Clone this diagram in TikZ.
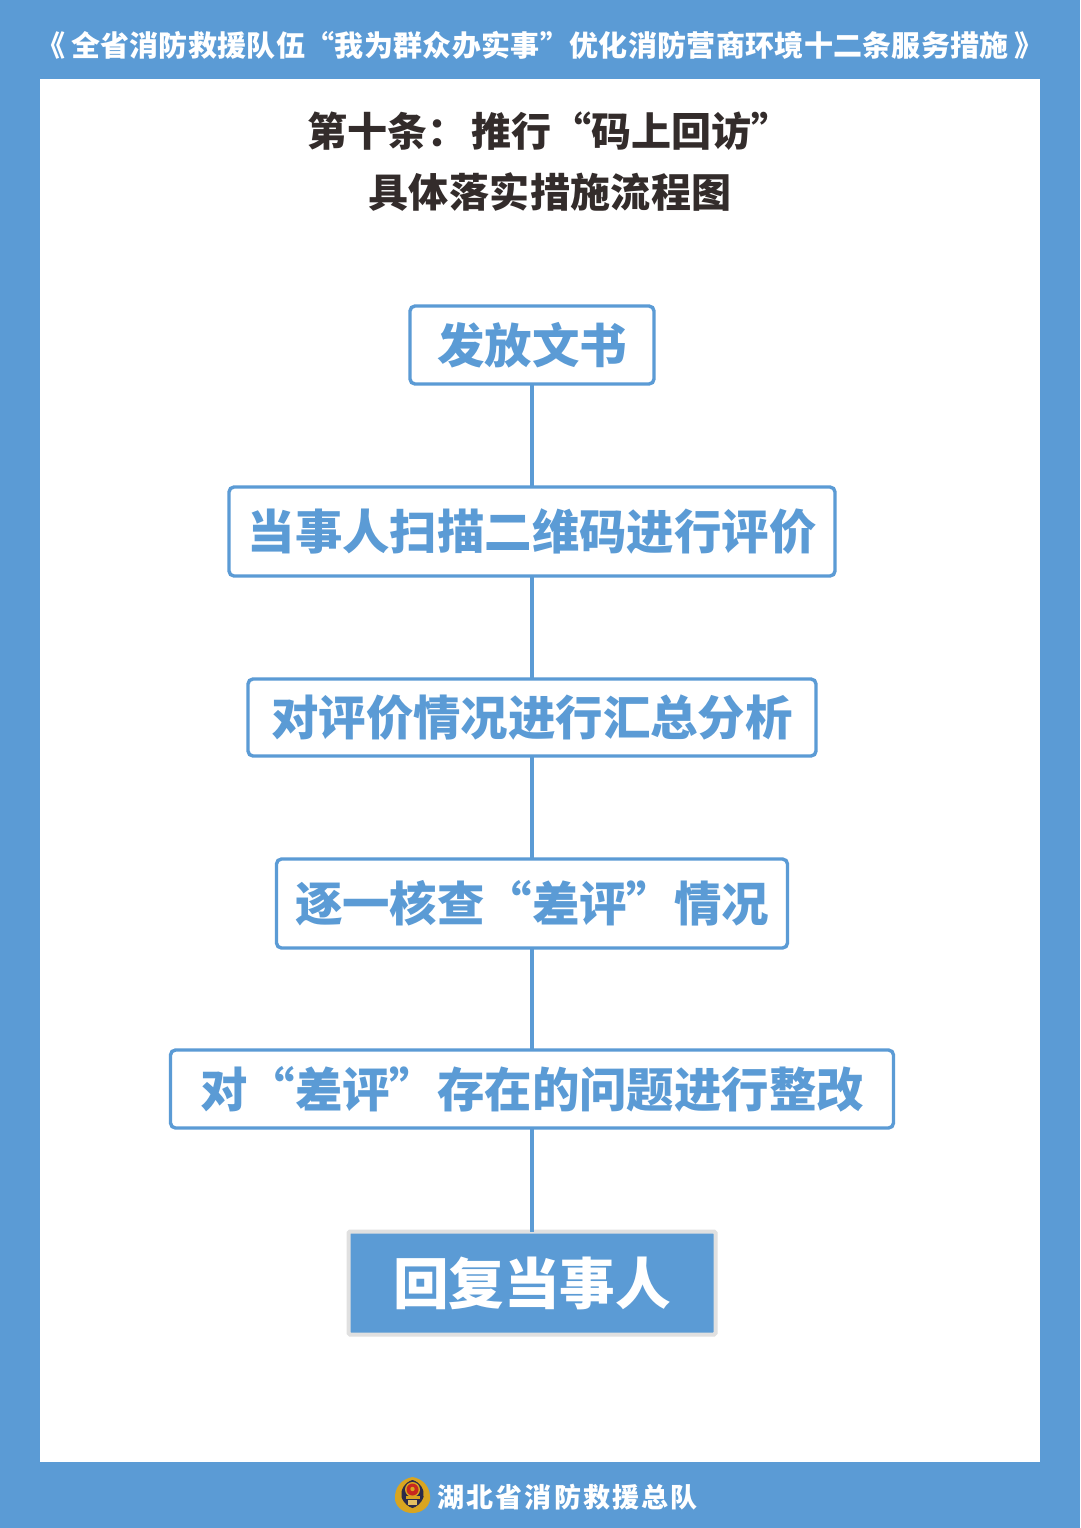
\documentclass[tikz,border=0pt]{standalone}
\usepackage{fontspec}
\newfontfamily\cjk{Noto Sans CJK SC}
\definecolor{fireblue}{HTML}{5B9BD5}
\definecolor{ink}{HTML}{332C2B}
\definecolor{edgegray}{HTML}{E0E0E0}
\definecolor{gold}{HTML}{D9A520}
\definecolor{navy}{HTML}{2A2A4A}
\definecolor{emred}{HTML}{C8281E}
\tikzset{
  x=1pt,y=-1pt,
  stepbox/.style={draw=fireblue,line width=3.4pt,rounded corners=5pt,fill=white,text=fireblue,inner sep=0pt,outer sep=0pt,font=\cjk\bfseries\fontsize{47.4}{52}\selectfont},
  endbox/.style={draw=edgegray,line width=4pt,rounded corners=1.5pt,fill=fireblue,text=white,inner sep=0pt,outer sep=0pt,font=\cjk\bfseries\fontsize{55.6}{60}\selectfont},
  link/.style={draw=fireblue,line width=3.4pt},
  plain/.style={inner sep=0pt,outer sep=0pt},
}
\begin{document}
\begin{tikzpicture}
\useasboundingbox (0,0) rectangle (1080,1528);
\fill[fireblue] (0,0) rectangle (1080,1528);
\fill[white] (40,79) rectangle (1040,1462);

\node[plain,text=white,font=\cjk\bfseries\fontsize{29}{32}\selectfont] (header) at (540,45) {\addfontfeature{LetterSpace=1.1}《\kern5.5pt 全省消防救援队伍“我为群众办实事”优化消防营商环境十二条服务措施\kern5.5pt 》};
\node[plain,text=ink,font=\cjk\bfseries\fontsize{40}{44}\selectfont] (title1) at (549.5,131) {第十条：\kern4pt 推行“码上回访”};
\node[plain,text=ink,font=\cjk\bfseries\fontsize{40}{44}\selectfont] (title2) at (550,192.5) {\addfontfeature{LetterSpace=1.2}具体落实措施流程图};

\node[stepbox,minimum width=244pt,minimum height=78pt] (s1) at (532,345) {发放文书};
\node[stepbox,minimum width=606pt,minimum height=89pt] (s2) at (532,531.5) {当事人扫描二维码进行评价};
\node[stepbox,minimum width=568pt,minimum height=77pt] (s3) at (532,717.5) {对评价情况进行汇总分析};
\node[stepbox,minimum width=511pt,minimum height=89pt] (s4) at (532,903.5) {逐一核查“差评”情况};
\node[stepbox,minimum width=723pt,minimum height=78pt] (s5) at (532,1089) {对“差评”存在的问题进行整改};
\node[endbox,minimum width=367pt,minimum height=103pt] (s6) at (532,1283) {回复当事人};

\draw[link] (s1.south) -- (s2.north);
\draw[link] (s2.south) -- (s3.north);
\draw[link] (s3.south) -- (s4.north);
\draw[link] (s4.south) -- (s5.north);
\draw[link] (s5.south) -- (s6.north);

% emblem
\fill[gold] (412.5,1477) .. controls (424,1479) and (431,1488) .. (430,1500)
  .. controls (428,1509) and (420,1513) .. (412.5,1513)
  .. controls (405,1513) and (397,1509) .. (395,1500)
  .. controls (394,1488) and (401,1479) .. (412.5,1477) -- cycle;
\fill[navy] (412.5,1480) .. controls (420,1482) and (425,1490) .. (423.5,1497)
  .. controls (421,1504) and (416,1507) .. (412.5,1508)
  .. controls (409,1507) and (404,1504) .. (401.5,1497)
  .. controls (400,1490) and (405,1482) .. (412.5,1480) -- cycle;
\fill[gold] (412.5,1489.5) circle[radius=7.5];
\fill[emred] (412.5,1489.5) circle[radius=6];
\fill[gold] (412.5,1489) circle[radius=2.2];
\fill[gold] (405.5,1496) rectangle (419.5,1498.5);
\fill[gold!70!white] (408,1500) rectangle (417,1505);
\node[plain,text=white,font=\cjk\bfseries\fontsize{27}{30}\selectfont] (footer) at (567.5,1497) {\addfontfeature{LetterSpace=7.5}湖北省消防救援总队};
\end{tikzpicture}
\end{document}
